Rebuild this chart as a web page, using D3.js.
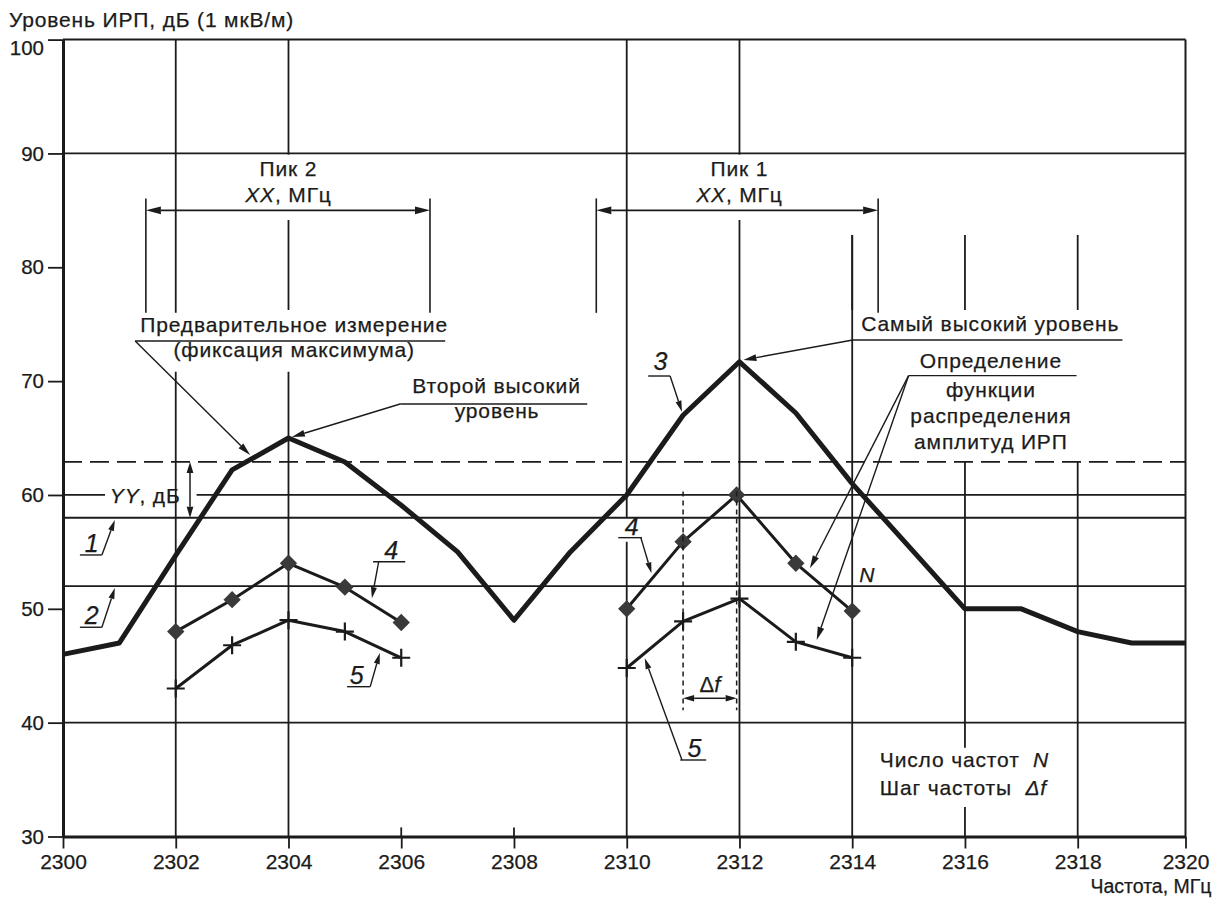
<!DOCTYPE html>
<html lang="ru">
<head>
<meta charset="utf-8">
<title>Уровень ИРП</title>
<script src="https://cdn.jsdelivr.net/npm/d3@7/dist/d3.min.js"></script>
<style>
  html, body { margin: 0; padding: 0; background: #ffffff; }
  svg { display: block; }
  text { font-family: "Liberation Sans", Arial, Helvetica, sans-serif; fill: #1b1b1b; stroke: #1b1b1b; stroke-width: 0.25px; }
</style>
</head>
<body>
<svg id="chart" width="1223" height="902" viewBox="0 0 1223 902"></svg>
<script>
// ---------- data ----------
const freqTicks  = d3.range(2300, 2321, 2);
const levelTicks = d3.range(30, 101, 10);

// 3 — preliminary max-hold sweep, 1 MHz step
const sweepFreq  = d3.range(2300, 2321, 1);
const sweepLevel = [46, 47, 54.7, 62.2, 65, 62.9, 59.1, 55, 49, 55, 60, 67, 71.7, 67.2, 61, 55.5, 50, 50, 48, 47, 47];

// Peak 2 — final measurement (4 — quasi-peak, 5 — average)
const peak2Freq   = [2302, 2303, 2304, 2305, 2306];
const peak2Curve4 = [48, 50.8, 54, 51.9, 48.8];
const peak2Curve5 = [43, 46.8, 49, 48, 45.7];

// Peak 1 — final measurement
const peak1Freq4  = [2310, 2311, 2311.95, 2313, 2314];
const peak1Curve4 = [50, 55.9, 60, 54, 49.8];
const peak1Freq5  = [2310, 2311, 2312, 2313, 2314];
const peak1Curve5 = [44.8, 48.9, 50.9, 47.1, 45.7];

// horizontal reference levels, dB
const levelDashed    = 62.9;
const level1         = 58;
const level2         = 52;
const level60        = 60;
const fullGridLevels = [100, 90, 40];

// ---------- scales ----------
const INK = "#1b1b1b";
const svg = d3.select("#chart");
const x = d3.scaleLinear().domain([2300, 2318, 2320]).range([63, 1077.7, 1185.5]);
const y = d3.scaleLinear().domain([30, 100]).range([836.5, 39.6]);

const gGrid = svg.append("g");
const gMarks = svg.append("g");
const gNote = svg.append("g");

// ---------- helpers ----------
function seg(g, f1, v1, f2, v2, w, dash) {
  const l = g.append("line")
    .attr("x1", x(f1)).attr("y1", y(v1))
    .attr("x2", x(f2)).attr("y2", y(v2))
    .attr("stroke", INK).attr("stroke-width", w || 1.8);
  if (dash) l.attr("stroke-dasharray", dash);
  return l;
}
function head(g, tx, ty, fx, fy, len, hw) {
  const a = Math.atan2(ty - fy, tx - fx);
  const bx = tx - len * Math.cos(a), by = ty - len * Math.sin(a);
  const px = -Math.sin(a) * hw, py = Math.cos(a) * hw;
  g.append("polygon")
    .attr("points", [[tx, ty], [bx + px, by + py], [bx - px, by - py]].map(p => p.join(",")).join(" "))
    .attr("fill", INK);
  return [bx, by];
}
// arrow from (f1,v1) to (f2,v2); head at the end, optionally at both ends
function arrow(g, f1, v1, f2, v2, o = {}) {
  const len = o.len || 13, hw = o.hw || 3.4, w = o.w || 1.4;
  let x1 = x(f1), y1 = y(v1), x2 = x(f2), y2 = y(v2);
  const e = head(g, x2, y2, x1, y1, len, hw);
  let s = [x1, y1];
  if (o.both) s = head(g, x1, y1, x2, y2, len, hw);
  g.append("line").attr("x1", s[0]).attr("y1", s[1]).attr("x2", e[0]).attr("y2", e[1])
    .attr("stroke", INK).attr("stroke-width", w);
}
function label(g, f, v, parts, o = {}) {
  const t = g.append("text")
    .attr("x", x(f)).attr("y", y(v))
    .attr("text-anchor", o.anchor || "middle")
    .style("font-size", (o.size || 21) + "px")
    .style("letter-spacing", (o.ls != null ? o.ls : 0.85) + "px");
  (Array.isArray(parts) ? parts : [[parts, false]]).forEach(([s, it]) =>
    t.append("tspan").text(s).style("font-style", it ? "italic" : "normal"));
  return t;
}
// underlined curve number with a leader arrow
function tag(g, num, tf, tv, u0, u1, uv, from, tip) {
  label(g, tf, tv, [[num, true]], { size: 25, ls: 0 });
  seg(g, u0, uv, u1, uv, 1.4);
  arrow(g, from, uv, tip[0], tip[1], { len: 11, hw: 3 });
}

// ---------- grid ----------
fullGridLevels.forEach(v => seg(gGrid, 2300, v, 2320, v, v === 100 ? 2 : 1.8));
seg(gGrid, 2300, level1, 2320, level1);
seg(gGrid, 2300, level2, 2320, level2);
seg(gGrid, 2300, level60, 2300.745, level60);
seg(gGrid, 2302.37, level60, 2320, level60);
seg(gGrid, 2300, levelDashed, 2320, levelDashed, 1.8, "19,8");

const vGrid = [
  { f: 2302, spans: [[100, 76.0], [70.83, 30]] },
  { f: 2304, spans: [[100, 89.9], [84.15, 76.25], [70.83, 30]] },
  { f: 2310, spans: [[100, 58.0], [55.9, 30]] },
  { f: 2312, spans: [[100, 89.9], [84.15, 30]] },
  { f: 2314, spans: [[82.84, 30]] },
  { f: 2316, spans: [[82.84, 76.25], [levelDashed, 37.8], [32.6, 30]] },
  { f: 2318, spans: [[82.84, 76.25], [levelDashed, 30]] },
  { f: 2320, spans: [[100, 30]] }
];
vGrid.forEach(d => d.spans.forEach(([a, b]) => seg(gGrid, d.f, a, d.f, b, d.f === 2320 ? 2 : 1.8)));

// ---------- curves ----------
const line = d3.line().x(d => x(d[0])).y(d => y(d[1]));
function curve(fs, vs, w) {
  gMarks.append("path").datum(d3.zip(fs, vs)).attr("d", line)
    .attr("fill", "none").attr("stroke", INK).attr("stroke-width", w)
    .attr("stroke-linejoin", "round").attr("stroke-linecap", "butt");
}
curve(sweepFreq, sweepLevel, 5);
curve(peak2Freq, peak2Curve4, 3);
curve(peak2Freq, peak2Curve5, 3);
curve(peak1Freq4, peak1Curve4, 3);
curve(peak1Freq5, peak1Curve5, 3);

const diamond = d3.symbol(d3.symbolSquare, 150);
function diamonds(fs, vs) {
  gMarks.selectAll(null).data(d3.zip(fs, vs)).join("path")
    .attr("d", diamond)
    .attr("transform", d => `translate(${x(d[0])},${y(d[1])}) rotate(45)`)
    .attr("fill", "#3a3a3a");
}
function pluses(fs, vs) {
  gMarks.selectAll(null).data(d3.zip(fs, vs)).join("path")
    .attr("d", "M-9,0H9M0,-9V9")
    .attr("transform", d => `translate(${x(d[0])},${y(d[1])})`)
    .attr("stroke", INK).attr("stroke-width", 2.2).attr("fill", "none");
}
diamonds(peak2Freq, peak2Curve4);
diamonds(peak1Freq4, peak1Curve4);
pluses(peak2Freq, peak2Curve5);
pluses(peak1Freq5, peak1Curve5);

// ---------- annotations ----------
// span brackets of the two peaks
[[2301.47, 2306.51, 2304, "Пик 2"], [2309.46, 2314.46, 2312, "Пик 1"]].forEach(([a, b, c, name]) => {
  seg(gNote, a, 86.05, a, 76.0, 1.6);
  seg(gNote, b, 86.05, b, 76.0, 1.6);
  arrow(gNote, a, 85, b, 85, { both: true, len: 15, hw: 3.8, w: 1.6 });
  label(gNote, c, 88, name);
  label(gNote, c, 85.75, [["XX", true], [", МГц", false]]);
});
// short segment above the right-hand labels
seg(gGrid, 2314, 82.84, 2314, 76.25);

label(gNote, 2304.1, 74.29, "Предварительное измерение");
seg(gNote, 2301.28, 73.53, 2306.78, 73.53, 1.4);
label(gNote, 2304.1, 72.12, "(фиксация максимума)");
arrow(gNote, 2301.28, 73.53, 2303.32, 63.51);

label(gNote, 2307.69, 68.93, "Второй высокий");
seg(gNote, 2305.98, 67.99, 2309.3, 67.99, 1.4);
label(gNote, 2307.7, 66.76, "уровень");
arrow(gNote, 2305.98, 67.99, 2304.06, 65.09);

label(gNote, 2316.45, 74.41, "Самый высокий уровень");
seg(gNote, 2314.01, 73.61, 2318.83, 73.61, 1.4);
arrow(gNote, 2314.01, 73.61, 2312.07, 71.86);

label(gNote, 2316.46, 71.16, "Определение");
seg(gNote, 2315.0, 70.48, 2317.98, 70.48, 1.4);
label(gNote, 2316.46, 68.61, "функции");
label(gNote, 2316.46, 66.33, "распределения");
label(gNote, 2316.46, 64.05, "амплитуд ИРП");
arrow(gNote, 2315.0, 70.48, 2313.25, 53.56);
arrow(gNote, 2315.0, 70.48, 2313.37, 47.26);

// YY — margin between the levels
label(gNote, 2300.83, 59.27, [["YY", true], [", дБ", false]], { anchor: "start" });
arrow(gNote, 2302.253, levelDashed, 2302.253, level1, { both: true, len: 11, hw: 3.4, w: 1.5 });

// curve numbers
tag(gNote, "1", 2300.51, 55.0, 2300.30, 2300.69, 54.73, 2300.69, [2300.92, 57.8]);
tag(gNote, "2", 2300.51, 48.67, 2300.30, 2300.69, 48.38, 2300.69, [2300.92, 51.83]);
tag(gNote, "3", 2310.6, 71.0, 2310.38, 2310.77, 70.45, 2310.77, [2310.98, 67.32]);
tag(gNote, "4", 2305.82, 54.4, 2305.5, 2306.07, 54.14, 2305.6, [2305.48, 50.93]);
tag(gNote, "5", 2305.21, 43.4, 2305.04, 2305.45, 43.16, 2305.45, [2305.62, 46.12]);
tag(gNote, "4", 2310.09, 56.5, 2309.85, 2310.27, 56.25, 2310.25, [2310.44, 53.12]);
tag(gNote, "5", 2311.2, 37.0, 2310.95, 2311.41, 36.72, 2310.98, [2310.32, 45.66]);

// frequency step Δf and number of frequencies N
seg(gNote, peak1Freq4[1], 60.3, peak1Freq4[1], 41.1, 1.5, "5,4");
seg(gNote, peak1Freq4[2], 60.3, peak1Freq4[2], 41.1, 1.5, "5,4");
arrow(gNote, peak1Freq4[1], 42.14, peak1Freq4[2], 42.14, { both: true, len: 11, hw: 3.2, w: 1.5 });
label(gNote, (peak1Freq4[1] + peak1Freq4[2]) / 2, 42.7, [["Δ", false], ["f", true]], { ls: 0, size: 22 });
label(gNote, 2314.26, 52.36, [["N", true]], { ls: 0 });

label(gNote, 2314.49, 36.11, [["Число частот\u00a0\u00a0", false], ["N", true]], { anchor: "start" });
label(gNote, 2314.49, 33.65, [["Шаг частоты\u00a0\u00a0", false], ["Δf", true]], { anchor: "start" });

// ---------- axes ----------
const xAxis = svg.append("g")
  .attr("transform", `translate(0,${y(30)})`)
  .style("color", INK)
  .call(d3.axisBottom(x).tickValues(freqTicks).tickFormat(d3.format("d"))
    .tickSize(12).tickSizeOuter(0).tickPadding(6));
xAxis.selectAll("text").style("font-size", "21px");
xAxis.selectAll(".tick line").attr("stroke-width", 1.8);
xAxis.select(".domain").attr("stroke-width", 3);
[2306, 2308].forEach(f => seg(svg, f, 30, f, 30.8, 1.8));

const yAxis = svg.append("g")
  .attr("transform", `translate(${x(2300)},0)`)
  .style("color", INK)
  .call(d3.axisLeft(y).tickValues(levelTicks).tickSize(15).tickSizeOuter(0).tickPadding(4));
yAxis.selectAll("text").style("font-size", "20.5px");
yAxis.selectAll(".tick").filter(d => d === 100).select("text").attr("dy", "0.72em");
yAxis.selectAll(".tick line").attr("stroke-width", 1.8);
yAxis.select(".domain").attr("stroke-width", 3);

svg.append("text").attr("x", 9).attr("y", 27)
  .style("font-size", "21px").style("letter-spacing", "0.85px")
  .text("Уровень ИРП, дБ (1 мкВ/м)");
svg.append("text").attr("x", x(2320) + 26).attr("y", 893)
  .attr("text-anchor", "end").style("font-size", "19.5px")
  .text("Частота, МГц");
</script>
</body>
</html>
